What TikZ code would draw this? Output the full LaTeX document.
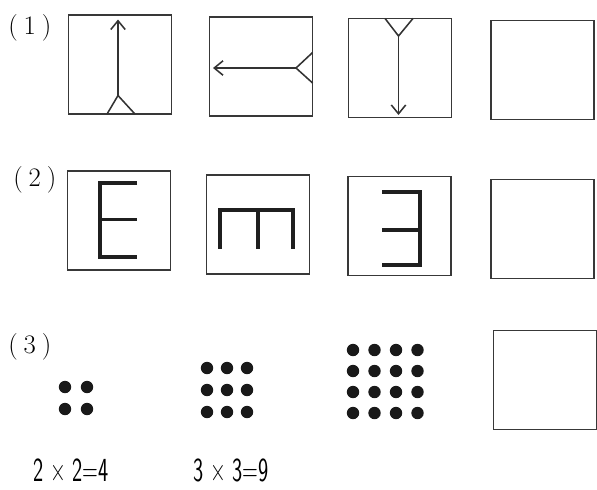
\documentclass[tikz,border=0pt]{standalone}
\usetikzlibrary{arrows.meta,positioning,calc}

\begin{document}
\begin{tikzpicture}[
  x=0.025cm, y=-0.025cm,
  box/.style={draw=black!78, line width=1.2pt, minimum width=2.58cm, minimum height=2.48cm, inner sep=0pt, outer sep=0pt},
  tag/.style={font=\fontsize{19}{22}\selectfont, anchor=west, inner sep=0pt},
  eqn/.style={font=\fontsize{24}{26}\selectfont\sffamily, anchor=base, inner sep=0pt},
  arrow/.style={-{Straight Barb[length=2.2mm,width=3.6mm]}, line width=1.1pt, black!80},
  fork/.style={line width=1.1pt, black!80},
  glyph/.style={line width=2.2pt, black!88},
  dot/.style={fill=black!90}
]
\useasboundingbox (0,0) rectangle (597,489);

% row labels
\node[tag] (tagA) at (8,27.5) {(\hspace{0.22em}1\hspace{0.22em})};
\node[tag] (tagB) at (13,180) {(\hspace{0.22em}2\hspace{0.22em})};
\node[tag] (tagC) at (8,347) {(\hspace{0.22em}3\hspace{0.22em})};

% (1) arrows
\node[box] (arrA) at (120,64.5) {};
\node[box] (arrB) at (261,66.5) {};
\node[box] (arrC) at (400,68) {};
\node[box] (arrD) at (542.5,70) {};

\begin{scope}[shift={(arrA.center)}]
  \draw[arrow] (-2,31) -- (-2,-45);
  \draw[fork] (-13,49.6) -- (-2,31) -- (15,49.6);
\end{scope}
\begin{scope}[shift={(arrB.center)}]
  \draw[arrow] (35,1.5) -- (-48,1.5);
  \draw[fork] (51.6,-14) -- (35,1.5) -- (51.6,16.5);
\end{scope}
\begin{scope}[shift={(arrC.center)}]
  \draw[arrow] (-1.5,-32) -- (-1.5,47);
  \draw[fork] (-15,-49.6) -- (-1.5,-32) -- (13,-49.6);
\end{scope}

% (2) letters
\node[box] (letA) at (119,220.5) {};
\node[box] (letB) at (258,224.5) {};
\node[box] (letC) at (399.5,226) {};
\node[box] (letD) at (542.5,229) {};

\begin{scope}[shift={(letA.center)}]
  \draw[glyph] (18,-37.5) -- (-19,-37.5) -- (-19,36.5) -- (18,36.5);
  \draw[glyph] (-19,-1) -- (18,-1);
\end{scope}
\begin{scope}[shift={(letB.center)}]
  \draw[glyph] (-38,24) -- (-38,-14.5) -- (35,-14.5) -- (35,24);
  \draw[glyph] (0,-14.5) -- (0,24);
\end{scope}
\begin{scope}[shift={(letC.center)}]
  \draw[glyph] (-17.5,-34) -- (20.5,-34) -- (20.5,39) -- (-17.5,39);
  \draw[glyph] (20.5,4) -- (-17.5,4);
\end{scope}

% (3) dots
\foreach \i in {0,1}
  \foreach \j in {0,1}
    \fill[dot] (65+22*\i,387+22*\j) circle[radius=0.155cm];
\foreach \i in {0,1,2}
  \foreach \j in {0,1,2}
    \fill[dot] (207+20*\i,368+22*\j) circle[radius=0.155cm];
\foreach \i in {0,...,3}
  \foreach \j in {0,...,3}
    \fill[dot] (353+21.5*\i,350+21*\j) circle[radius=0.155cm];

\node[box] (dotBox) at (545,380) {};

\node[eqn] (eqA) at (71,481) {\scalebox{0.64}[1]{2 × 2=4}};
\node[eqn] (eqB) at (231,481) {\scalebox{0.64}[1]{3 × 3=9}};
\end{tikzpicture}
\end{document}
